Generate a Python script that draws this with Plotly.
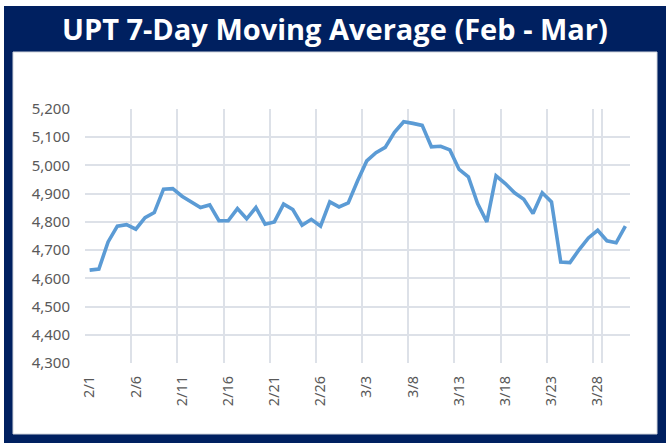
import plotly.graph_objects as go

# ---- data ----
dates = (["2/%d" % d for d in range(1, 29)] + ["3/%d" % d for d in range(1, 32)])
upt = [4629, 4633, 4729, 4785, 4790, 4774, 4815, 4833, 4916, 4918,
       4891, 4871, 4851, 4860, 4804, 4804, 4847, 4811, 4851, 4792,
       4800, 4863, 4844, 4788, 4809, 4785, 4871, 4853, 4867, 4945,
       5016, 5045, 5064, 5117, 5155, 5149, 5142, 5066, 5068, 5055,
       4986, 4960, 4865, 4800, 4963, 4936, 4903, 4880, 4830, 4903,
       4871, 4658, 4656, 4702, 4743, 4770, 4733, 4726, 4785]
y_ticks = [4300, 4400, 4500, 4600, 4700, 4800, 4900, 5000, 5100, 5200]
title_text = "UPT 7-Day Moving Average (Feb - Mar)"

W, H = 668, 443
L, R, T, B = 85, 38, 109, 80
PW, PH = W - L - R, H - T - B


def px(x):
    return (x - L) / PW


def py(y):
    return (H - B - y) / PH


NAVY = "#002060"
GRID = "#dde1e8"

fig = go.Figure()
fig.add_trace(go.Scatter(x=dates, y=upt, mode="lines",
                         line=dict(color="#5b9bd5", width=3.6),
                         hoverinfo="x+y"))

fig.add_shape(type="rect", xref="paper", yref="paper",
              x0=px(4), x1=px(666), y0=py(443), y1=py(6),
              fillcolor=NAVY, line=dict(width=0), layer="below")
fig.add_shape(type="rect", xref="paper", yref="paper",
              x0=px(13), x1=px(657), y0=py(434), y1=py(52),
              fillcolor="white", line=dict(width=1, color="#d0d4dc"), layer="below")

fig.add_annotation(text="<b>%s</b>" % title_text, xref="paper", yref="paper",
                   x=px(335), y=py(29), xanchor="center", yanchor="middle",
                   showarrow=False,
                   font=dict(family="Open Sans", size=29, color="white"))

fig.update_layout(
    width=W, height=H,
    margin=dict(l=L, r=R, t=T, b=B, pad=0),
    paper_bgcolor="white", plot_bgcolor="rgba(0,0,0,0)",
    showlegend=False,
    font=dict(family="Noto Sans", color="#595959", size=13),
)
fig.update_xaxes(type="category", categoryorder="array", categoryarray=dates,
                 range=[-0.5, len(dates) - 0.5],
                 tickmode="array", tickvals=dates[::5], ticktext=dates[::5],
                 tickson="boundaries", tickangle=-90,
                 showgrid=True, gridcolor=GRID, gridwidth=1.5,
                 showline=False, zeroline=False, ticks="",
                 ticklabelstandoff=9,
                 tickfont=dict(size=14.5, color="#595959"))
fig.update_yaxes(range=[4300, 5200], tickvals=y_ticks,
                 ticktext=["{:,}".format(v) for v in y_ticks],
                 showgrid=True, gridcolor=GRID, gridwidth=1.5,
                 zeroline=False, showline=False, ticks="",
                 ticklabelstandoff=14,
                 tickfont=dict(size=15, color="#595959"))

fig.write_html("out.html", config={"displayModeBar": False},
               post_script="document.body.style.margin='0';document.body.style.overflow='hidden';")
